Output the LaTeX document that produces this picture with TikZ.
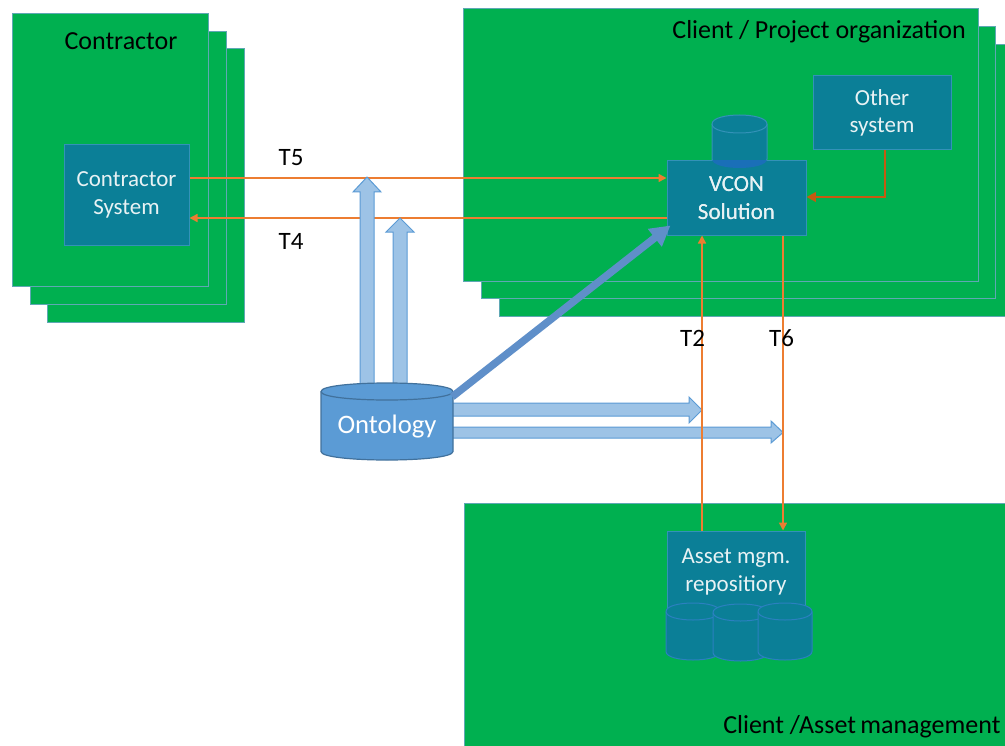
\documentclass[tikz,border=0pt]{standalone}
\usepackage{fontspec}
\setmainfont{Carlito}
\usetikzlibrary{arrows.meta,calc}

\definecolor{grn}{HTML}{00B050}
\definecolor{grnborder}{HTML}{5FA8B4}
\definecolor{teal1}{HTML}{0B7F97}
\definecolor{tealborder}{HTML}{3392B8}
\definecolor{ovblue}{HTML}{1A6FB8}
\definecolor{org}{HTML}{ED7D31}
\definecolor{dorg}{HTML}{C55A11}
\definecolor{lblue}{HTML}{9DC3E6}
\definecolor{lbborder}{HTML}{5B9BD5}
\definecolor{mblue}{HTML}{5B9BD5}
\definecolor{mbborder}{HTML}{41719C}
\definecolor{arrblue}{HTML}{5F8FC9}
\definecolor{txtw}{HTML}{E8F2F4}
\definecolor{cylborder}{HTML}{2B80C0}

% #1 x-left, #2 x-right, #3 y-top, #4 y-bottom, #5 ry, #6 style
\newcommand{\drawcyl}[6]{%
  \filldraw[#6] (#1,#3+#5) -- (#1,#4-#5) .. controls (#1,#4+#5/3) and (#2,#4+#5/3) .. (#2,#4-#5) -- (#2,#3+#5) .. controls (#2,#3-#5/3) and (#1,#3-#5/3) .. (#1,#3+#5) -- cycle;
  \draw[#6] (#1,#3+#5) .. controls (#1,#3+#5*7/3) and (#2,#3+#5*7/3) .. (#2,#3+#5);
}

\begin{document}
\begin{tikzpicture}[x=0.75pt,y=-0.75pt,
  org/.style={draw=grnborder, fill=grn, line width=0.75pt},
  sysbox/.style={draw=tealborder, fill=teal1, text=txtw, font=\fontsize{17.25}{20.5}\selectfont, align=center, inner sep=0pt, line width=0.75pt},
  title/.style={font=\fontsize{19.5}{23}\selectfont, text=black, inner sep=0pt},
  tlabel/.style={font=\fontsize{18.75}{22}\selectfont, text=black, inner sep=0pt},
  flow/.style={draw=org, line width=1.1pt, -{Triangle[length=6pt,width=6pt]}},
  flowthick/.style={draw=dorg, line width=1.9pt, -{Triangle[length=7pt,width=7pt]}},
  blockarr/.style={draw=lbborder, fill=lblue, line width=0.75pt, line join=miter},
  tealcyl/.style={draw=tealborder, fill=teal1, line width=0.75pt},
  assetcyl/.style={draw=cylborder, fill=teal1, line width=0.75pt},
  ontocyl/.style={draw=mbborder, fill=mblue, line width=0.9pt}
]
\clip (0,0) rectangle (1005,745);
\fill[white] (0,0) rectangle (1005,745);

% Contractor stack
\draw[org] (47,49) rectangle (244,322);
\draw[org] (30,32) rectangle (226,304);
\draw[org] (12,14) rectangle (208,286);
\node[title] (ctitle) at (121,41) {Contractor};

% Client / Project organization stack
\draw[org] (499,45) rectangle (1012,316);
\draw[org] (481,27) rectangle (995,298);
\draw[org] (463,9) rectangle (978,281);
\node[title, anchor=east] (ptitle) at (966,32) {Client / Project organization};

% Client / Asset management
\draw[org] (464,503) rectangle (1012,752);
\node[title, anchor=west] (atitle) at (723,727) {Client /Asset\,management};

% VCON cylinder (behind box)
\drawcyl{712}{767}{115}{168}{9}{tealcyl}

% System boxes
\node[sysbox, minimum width=125*0.75pt, minimum height=100*0.75pt] (cs) at (126.5,195) {Contractor\\System};
\node[sysbox, minimum width=139*0.75pt, minimum height=74*0.75pt] (vcon) at (736.5,198) {VCON\\Solution};
\node[sysbox, minimum width=138*0.75pt, minimum height=74*0.75pt] (other) at (882,113) {Other\\system};
\node[sysbox, minimum width=138*0.75pt, minimum height=82*0.75pt] (asset) at (736,572) {Asset mgm.\\repositiory};

% overlap of the VCON cylinder with the box
\begin{scope}
  \clip (vcon.north west) rectangle (vcon.south east);
  \fill[ovblue] (712,124) -- (712,159) .. controls (712,171) and (767,171) .. (767,159) -- (767,124) -- cycle;
\end{scope}
\node[sysbox, draw=none, fill=none, minimum width=139*0.75pt, minimum height=74*0.75pt] (vcontext) at (736.5,198) {VCON\\Solution};

% Asset repository cylinders
\drawcyl{666}{720}{603}{660}{8.5}{assetcyl}
\drawcyl{713}{768}{604}{661}{8.5}{assetcyl}
\drawcyl{758}{812}{603}{660}{8.5}{assetcyl}

% T5 / T4 flows
\draw[flow] (cs.east |- 0,178) -- (vcon.west |- 0,178);
\draw[flow] (vcon.west |- 0,218) -- (cs.east |- 0,218);
\node[tlabel] (t5) at (291,158) {T5};
\node[tlabel] (t4) at (291,241) {T4};

% Other system -> VCON
\draw[flowthick] (other.south -| 885,0) |- (vcon.east |- 0,197);

% Up block arrows
\draw[blockarr] (360,395) -- (360,192) -- (353,192) -- (367,177) -- (381,192) -- (374,192) -- (374,395) -- cycle;
\draw[blockarr] (393,395) -- (393,232) -- (386,232) -- (400,218) -- (414,232) -- (407,232) -- (407,395) -- cycle;

% Right block arrows
\draw[blockarr] (440,403) -- (689,403) -- (689,397) -- (702,410) -- (689,423) -- (689,416) -- (440,416) -- cycle;
\draw[blockarr] (440,427) -- (771,427) -- (771,421) -- (783,432.5) -- (771,443) -- (771,438) -- (440,438) -- cycle;

% T2 / T6 flows
\draw[flow] (asset.north -| 702,0) -- (vcon.south -| 702,0);
\draw[flow] (vcon.south -| 783,0) -- (asset.north -| 783,0);
\node[tlabel] (t2) at (692.5,338) {T2};
\node[tlabel] (t6) at (781.5,338) {T6};

% Ontology
\drawcyl{321}{453}{383}{460}{8.5}{ontocyl}
\node[inner sep=0pt, minimum width=132*0.75pt, minimum height=88*0.75pt, text=white, font=\fontsize{20}{24}\selectfont] (onto) at (387,427) {Ontology};

% Ontology -> VCON
\draw[draw=arrblue, line width=5.6pt, -{Triangle[length=15pt,width=16pt]}] ($(onto.north east)+(-1,14)$) -- ($(vcon.south west)+(4,-10)$);
\end{tikzpicture}
\end{document}
